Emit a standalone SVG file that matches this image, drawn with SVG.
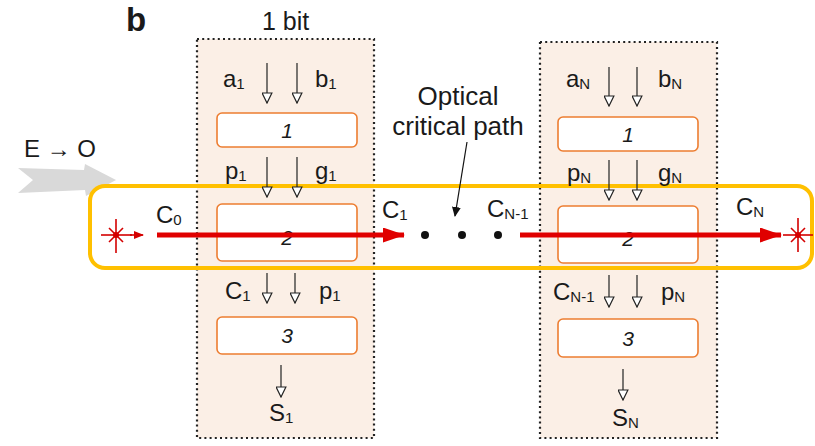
<svg xmlns="http://www.w3.org/2000/svg" width="815" height="446" viewBox="0 0 815 446">
  <defs>
    <style>
      text { font-family: "Liberation Sans", Arial, sans-serif; fill: #1a1a1a; }
      .lbl { font-size: 24px; }
      .sub { font-size: 15px; }
      .num { font-size: 21px; font-style: italic; text-anchor: middle; }
      .bit { fill: #FBEFE6; stroke: #222; stroke-width: 2.2; stroke-dasharray: 2 3.2; }
      .stage { fill: #ffffff; stroke: #ED7D31; stroke-width: 1.6; }
      .sig { stroke: #222; stroke-width: 1.2; fill: none; marker-end: url(#hollow); }
      .opt { stroke: #E00000; stroke-width: 5; fill: none; marker-end: url(#redHead); }
      .laser { stroke: #D40000; stroke-width: 1.6; fill: none; }
    </style>
    <marker id="hollow" viewBox="0 0 12 11" refX="11" refY="5.5" markerWidth="12" markerHeight="11" markerUnits="userSpaceOnUse" orient="auto">
      <path d="M1,0.6 L11,5.5 L1,10.4 Z" fill="#fff" stroke="#222" stroke-width="1.2"/>
    </marker>
    <marker id="redHead" viewBox="0 0 22 15" refX="21" refY="7.5" markerWidth="22" markerHeight="15" markerUnits="userSpaceOnUse" orient="auto">
      <path d="M0,0 L22,7.5 L0,15 Z" fill="#E00000"/>
    </marker>
    <marker id="smallRed" viewBox="0 0 10 10" refX="9" refY="5" markerWidth="10" markerHeight="10" markerUnits="userSpaceOnUse" orient="auto">
      <path d="M0,1 L10,5 L0,9 Z" fill="#D40000"/>
    </marker>
    <marker id="blackHead" viewBox="0 0 10 10" refX="9" refY="5" markerWidth="10" markerHeight="12" markerUnits="userSpaceOnUse" orient="auto">
      <path d="M0,0.5 L10,5 L0,9.5 Z" fill="#111"/>
    </marker>
  </defs>

  <!-- panel letter and conversion note -->
  <text x="126" y="31" style="font-size:33px;font-weight:bold;">b</text>
  <text x="24" y="157" class="lbl">E → O</text>
  <path d="M18,168 L33,180 L18,193 L85,190 L86,196 L116,180 L85,164 L84,170 Z" fill="#D9D9D9"/>

  <!-- bit slice 1 -->
  <g id="bit1">
    <rect class="bit" x="197" y="39" width="177" height="399"/>
    <text x="262" y="30" style="font-size:25px;">1 bit</text>
  </g>
  <!-- bit slice N -->
  <g id="bitN">
    <rect class="bit" x="540" y="42" width="177" height="396"/>
  </g>

  <!-- optical domain outline -->
  <rect id="optical-domain" x="90" y="186" width="722" height="82" rx="15" ry="15" fill="none" stroke="#FFC000" stroke-width="4"/>

  <!-- stages, slice 1 -->
  <g id="s1-stage1"><rect class="stage" x="217" y="113" width="140" height="34" rx="5"/><text class="num" x="287" y="138">1</text></g>
  <g id="s1-stage2"><rect class="stage" x="217" y="204" width="140" height="57" rx="5"/><text class="num" x="287" y="245">2</text></g>
  <g id="s1-stage3"><rect class="stage" x="217" y="317" width="140" height="37" rx="5"/><text class="num" x="287" y="343">3</text></g>

  <!-- stages, slice N -->
  <g id="sN-stage1"><rect class="stage" x="558" y="117" width="140" height="34" rx="5"/><text class="num" x="628" y="142">1</text></g>
  <g id="sN-stage2"><rect class="stage" x="558" y="206" width="140" height="57" rx="5"/><text class="num" x="628" y="246">2</text></g>
  <g id="sN-stage3"><rect class="stage" x="558" y="319" width="140" height="38" rx="5"/><text class="num" x="628" y="346">3</text></g>

  <!-- electrical signal connectors -->
  <g id="connectors">
    <line class="sig" x1="267" y1="63" x2="267" y2="103"/>
    <line class="sig" x1="297" y1="63" x2="297" y2="103"/>
    <line class="sig" x1="267" y1="157" x2="267" y2="197"/>
    <line class="sig" x1="297" y1="157" x2="297" y2="197"/>
    <line class="sig" x1="267" y1="273" x2="267" y2="303"/>
    <line class="sig" x1="295" y1="273" x2="295" y2="303"/>
    <line class="sig" x1="281" y1="365" x2="281" y2="397"/>

    <line class="sig" x1="609" y1="67" x2="609" y2="106"/>
    <line class="sig" x1="637" y1="67" x2="637" y2="106"/>
    <line class="sig" x1="609" y1="160" x2="609" y2="200"/>
    <line class="sig" x1="637" y1="160" x2="637" y2="200"/>
    <line class="sig" x1="609" y1="275" x2="609" y2="307"/>
    <line class="sig" x1="637" y1="275" x2="637" y2="307"/>
    <line class="sig" x1="623" y1="369" x2="623" y2="400"/>

    <!-- optical carry path -->
    <line class="opt" x1="157" y1="235" x2="404" y2="235"/>
    <line class="opt" x1="520" y1="235" x2="781" y2="235"/>

    <!-- critical path pointer -->
    <line x1="467" y1="142" x2="455" y2="216" stroke="#111" stroke-width="1.2" marker-end="url(#blackHead)"/>
  </g>

  <!-- signal labels, slice 1 -->
  <text class="lbl" x="223" y="87">a<tspan class="sub" dy="2">1</tspan></text>
  <text class="lbl" x="315" y="87">b<tspan class="sub" dy="2">1</tspan></text>
  <text class="lbl" x="225" y="179">p<tspan class="sub" dy="2">1</tspan></text>
  <text class="lbl" x="315" y="179">g<tspan class="sub" dy="2">1</tspan></text>
  <text class="lbl" x="225" y="299">C<tspan class="sub" dy="2">1</tspan></text>
  <text class="lbl" x="319" y="299">p<tspan class="sub" dy="2">1</tspan></text>
  <text class="lbl" x="269" y="421">S<tspan class="sub" dy="2">1</tspan></text>

  <!-- signal labels, slice N -->
  <text class="lbl" x="566" y="87">a<tspan class="sub" dy="2">N</tspan></text>
  <text class="lbl" x="658" y="87">b<tspan class="sub" dy="2">N</tspan></text>
  <text class="lbl" x="567" y="181">p<tspan class="sub" dy="2">N</tspan></text>
  <text class="lbl" x="658" y="181">g<tspan class="sub" dy="2">N</tspan></text>
  <text class="lbl" x="553" y="300">C<tspan class="sub" dy="2">N-1</tspan></text>
  <text class="lbl" x="661" y="300">p<tspan class="sub" dy="2">N</tspan></text>
  <text class="lbl" x="612" y="426">S<tspan class="sub" dy="2">N</tspan></text>

  <!-- carry labels -->
  <text class="lbl" x="156" y="223">C<tspan class="sub" dy="2">0</tspan></text>
  <text class="lbl" x="382" y="218">C<tspan class="sub" dy="2">1</tspan></text>
  <text class="lbl" x="487" y="217">C<tspan class="sub" dy="2">N-1</tspan></text>
  <text class="lbl" x="736" y="215">C<tspan class="sub" dy="2">N</tspan></text>

  <!-- ellipsis between slices -->
  <circle cx="425" cy="235" r="4" fill="#111"/>
  <circle cx="462" cy="235" r="4" fill="#111"/>
  <circle cx="498" cy="235" r="4" fill="#111"/>

  <text x="458" y="105" text-anchor="middle" style="font-size:26px;">Optical</text>
  <text x="458" y="135" text-anchor="middle" style="font-size:26px;">critical path</text>

  <!-- laser sources -->
  <g id="laser-in" class="laser">
    <line x1="116" y1="219" x2="116" y2="253"/>
    <line x1="101" y1="235" x2="132" y2="235"/>
    <line x1="109" y1="228" x2="123" y2="242"/>
    <line x1="109" y1="242" x2="123" y2="228"/>
    <line x1="130" y1="235" x2="143" y2="235" marker-end="url(#smallRed)"/>
    <circle cx="116" cy="235" r="3" fill="#D40000" stroke="none"/>
  </g>
  <g id="laser-out" class="laser">
    <line x1="798" y1="218" x2="798" y2="252"/>
    <line x1="783" y1="235" x2="813" y2="235"/>
    <line x1="791" y1="228" x2="805" y2="242"/>
    <line x1="791" y1="242" x2="805" y2="228"/>
    <circle cx="798" cy="235" r="3" fill="#D40000" stroke="none"/>
  </g>
</svg>
